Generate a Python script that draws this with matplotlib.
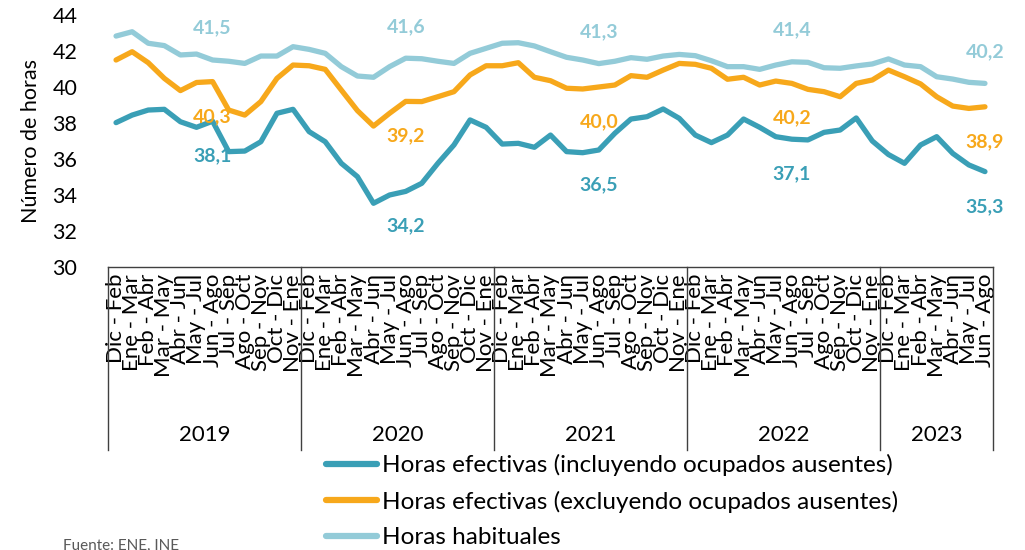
import matplotlib
matplotlib.use("Agg")
import matplotlib.pyplot as plt
from matplotlib.lines import Line2D

plt.rcParams['font.family'] = ['Lato', 'DejaVu Sans']

years = ["2019", "2020", "2021", "2022", "2023"]
months_full = ["Dic - Feb", "Ene - Mar", "Feb - Abr", "Mar - May", "Abr - Jun", "May - Jul",
               "Jun - Ago", "Jul - Sep", "Ago - Oct", "Sep - Nov", "Oct - Dic", "Nov - Ene"]
months_per_year = [12, 12, 12, 12, 7]
categories = []
for n in months_per_year:
    categories += months_full[:n]

efectivas_incl = [38.02, 38.44, 38.72, 38.76, 38.07, 37.76, 38.1, 36.41, 36.44, 36.96, 38.54, 38.76,
                  37.52, 36.96, 35.76, 35.02, 33.54, 34.0, 34.2, 34.65, 35.76, 36.78, 38.17, 37.76,
                  36.83, 36.87, 36.65, 37.33, 36.41, 36.35, 36.5, 37.43, 38.22, 38.35, 38.78, 38.26,
                  37.33, 36.91, 37.33, 38.22, 37.76, 37.24, 37.1, 37.06, 37.48, 37.61, 38.28, 37.0,
                  36.25, 35.76, 36.78, 37.24, 36.31, 35.67, 35.3]
efectivas_excl = [41.5, 41.96, 41.35, 40.48, 39.8, 40.25, 40.3, 38.72, 38.44, 39.19, 40.48, 41.22,
                  41.18, 40.98, 39.83, 38.69, 37.83, 38.54, 39.2, 39.19, 39.46, 39.74, 40.67, 41.18,
                  41.18, 41.35, 40.54, 40.35, 39.93, 39.89, 40.0, 40.11, 40.63, 40.54, 40.94, 41.31,
                  41.26, 41.04, 40.43, 40.54, 40.11, 40.33, 40.2, 39.87, 39.74, 39.46, 40.2, 40.39,
                  40.94, 40.57, 40.17, 39.46, 38.94, 38.81, 38.9]
habituales = [42.83, 43.07, 42.43, 42.30, 41.78, 41.83, 41.5, 41.43, 41.31, 41.72, 41.72, 42.24,
              42.09, 41.87, 41.13, 40.61, 40.54, 41.13, 41.6, 41.57, 41.43, 41.31, 41.87, 42.15,
              42.43, 42.46, 42.28, 41.96, 41.65, 41.5, 41.3, 41.43, 41.63, 41.54, 41.72, 41.81,
              41.74, 41.46, 41.13, 41.13, 40.98, 41.22, 41.4, 41.37, 41.07, 41.04, 41.17, 41.28,
              41.56, 41.22, 41.13, 40.57, 40.44, 40.26, 40.2]
label_idx = [6, 18, 30, 42, 54]

series_names = ["Horas efectivas (incluyendo ocupados ausentes)",
                "Horas efectivas (excluyendo ocupados ausentes)",
                "Horas habituales"]
colors = ["#3A9FB6", "#F7A81B", "#93CBD8"]

fig = plt.figure(figsize=(10.25, 5.5), dpi=100)
ax = fig.add_axes([108/1025, 1-267/550, (993-108)/1025, 252/550])

x = list(range(len(categories)))
series = [efectivas_incl, efectivas_excl, habituales]
for s, c in zip(series, colors):
    ax.plot(x, s, color=c, lw=3.8, solid_capstyle='round', solid_joinstyle='round')

offsets = [-25, -25, 23]
for s, c, off in zip(series, colors, offsets):
    for i in label_idx:
        ax.annotate(f"{s[i]:.1f}".replace('.', ','), (i, s[i]), xytext=(0, off),
                    textcoords='offset points', ha='center', va='center',
                    color=c, fontsize=14, fontweight='bold')

ax.set_xlim(-0.5, len(categories) - 0.5)
ax.set_ylim(30, 44)
ax.set_yticks(range(30, 45, 2))
ax.tick_params(axis='y', length=0, labelsize=15.5, pad=22)
ax.set_ylabel("Número de horas", fontsize=15.5, labelpad=8)
for sp in ['left', 'right', 'top']:
    ax.spines[sp].set_visible(False)
ax.spines['bottom'].set_color('#404040')
ax.spines['bottom'].set_linewidth(1.0)

ax.set_xticks(x)
ax.set_xticklabels(categories, rotation=90, ha='center', va='top', fontsize=16)
ax.tick_params(axis='x', length=0, pad=5)

# year group separators and labels
bounds = [-0.5]
for n in months_per_year:
    bounds.append(bounds[-1] + n)
trans = ax.get_xaxis_transform()
for b in bounds:
    ax.plot([b, b], [0, -0.726], transform=trans, color='#404040', lw=1.0, clip_on=False)
for yr, a, b in zip(years, bounds[:-1], bounds[1:]):
    ax.text((a + b) / 2, -0.667, yr, transform=trans, ha='center', va='center', fontsize=16)

handles = [Line2D([0], [0], color=c, lw=4.5, solid_capstyle='round') for c in colors]
fig.legend(handles, series_names, loc='upper left', bbox_to_anchor=(326/1025, 1-454/550),
           frameon=False, fontsize=17.5, handlelength=2.1, handletextpad=0.2, labelspacing=0.6,
           borderaxespad=0, borderpad=0)

fig.text(63/1025, 1-539/550, "Fuente: ENE, INE", fontsize=11, color='#595959', ha='left', va='top')

fig.savefig("out.png", dpi=100)
